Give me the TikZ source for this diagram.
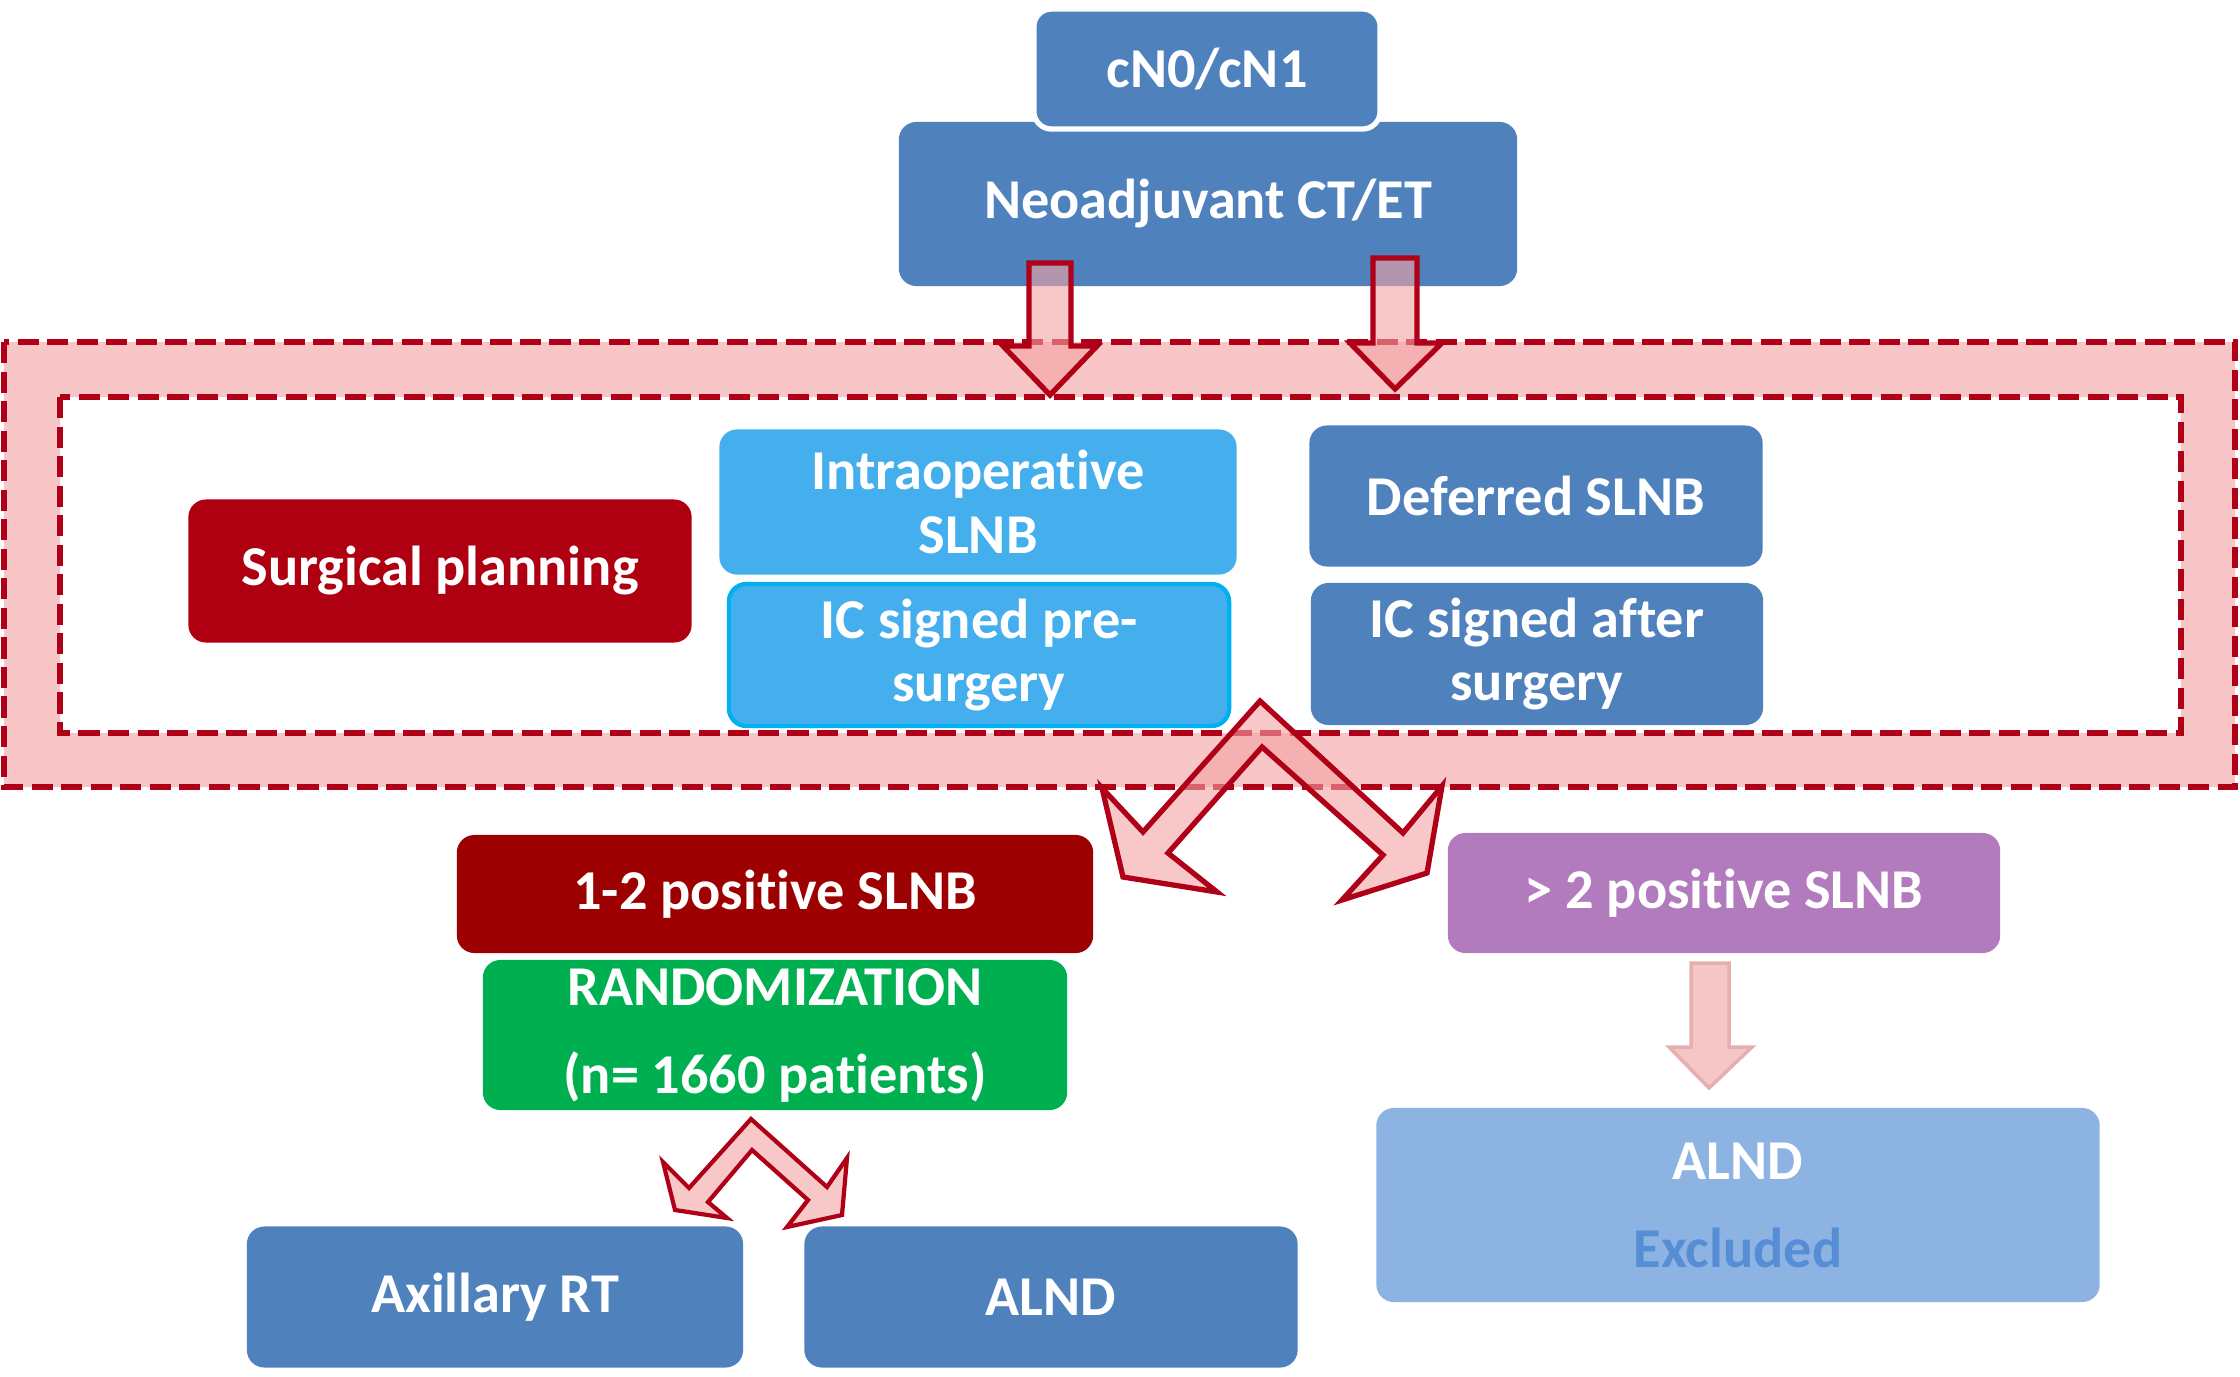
\documentclass[tikz,border=0pt]{standalone}
\usepackage{fontspec}
\setmainfont[Ligatures=NoCommon]{Carlito}

\definecolor{boxblue}{HTML}{4F81BD}
\definecolor{skyblue}{HTML}{45AFEE}
\definecolor{cyanline}{HTML}{00B0F0}
\definecolor{planred}{HTML}{AE0010}
\definecolor{posred}{HTML}{9C0000}
\definecolor{randgreen}{HTML}{00B050}
\definecolor{purplebox}{HTML}{B27BBE}
\definecolor{paleblue}{HTML}{8DB3E2}
\definecolor{exclblue}{HTML}{558ED5}
\definecolor{dashred}{HTML}{B00018}
\definecolor{bandpink}{HTML}{F8C6C6}
\definecolor{arrowpink}{HTML}{F3A3A3}
\definecolor{softpink}{HTML}{F6C6C6}
\definecolor{softred}{HTML}{E6AFAF}

\tikzset{
	box/.style={rectangle, rounded corners=5pt, fill=boxblue, text=white, align=center, inner sep=0pt,
		font=\bfseries\fontsize{16}{18}\selectfont},
	frame/.style={draw=dashred, line width=1.8pt, dash pattern=on 6pt off 2.4pt},
	blockarrow/.style={draw=dashred, line width=1.5pt, fill=arrowpink, fill opacity=0.6, line join=miter}
}

\begin{document}
\begin{tikzpicture}[x=0.01cm, y=-0.01cm]
	\useasboundingbox (0,0) rectangle (2240,1376);
	
	% pink band between the two dashed frames
	\fill[bandpink, even odd rule] (4,342) rectangle (2235,787) (60,397) rectangle (2181,733);
	\draw[frame] (4,342) rectangle (2235,787);
	\draw[frame] (60,397) rectangle (2181,733);
	
	\node[box, minimum width=6.18cm, minimum height=1.64cm] (neo) at (1208,204) {Neoadjuvant CT/ET};
	\node[box, draw=white, line width=1.5pt, minimum width=3.46cm, minimum height=1.2cm] (cn) at (1207,69) {cN0/cN1};
	
	\node[box, fill=planred, minimum width=5.03cm, minimum height=1.43cm] (plan) at (440,571) {Surgical planning};
	\node[box, fill=skyblue, minimum width=5.17cm, minimum height=1.45cm] (intra) at (978,502) {Intraoperative\\SLNB};
	\node[box, fill=skyblue, draw=cyanline, line width=1.2pt, minimum width=5.0cm, minimum height=1.42cm] (icpre) at (979,655) {IC signed pre-\\surgery};
	\node[box, minimum width=4.53cm, minimum height=1.41cm] (defer) at (1536,496) {Deferred SLNB};
	\node[box, minimum width=4.52cm, minimum height=1.42cm] (icafter) at (1537,654) {IC signed after\\surgery};
	
	\node[box, fill=posred, minimum width=6.36cm, minimum height=1.18cm] (pos12) at (775,894) {1-2 positive SLNB};
	\node[box, fill=randgreen, minimum width=5.84cm, minimum height=1.5cm] (rand) at (775,1035) {RANDOMIZATION\\[7pt](n= 1660 patients)};
	\node[box, fill=purplebox, minimum width=5.52cm, minimum height=1.2cm] (pos2) at (1724,893) {> 2 positive SLNB};
	\node[box, fill=paleblue, minimum width=7.23cm, minimum height=1.94cm] (excl) at (1738,1205) {ALND\\[7pt]\textcolor{exclblue}{Excluded}};
	\node[box, minimum width=4.96cm, minimum height=1.41cm] (axrt) at (495,1297) {Axillary RT};
	\node[box, minimum width=4.93cm, minimum height=1.41cm] (alnd) at (1051,1297) {ALND};
	
	% block arrows
	\draw[blockarrow] (1029,263) -- (1071,263) -- (1071,346) -- (1097,346) -- (1050,395) -- (1003,346) -- (1029,346) -- cycle;
	\draw[blockarrow] (1373,258) -- (1417,258) -- (1417,343) -- (1442,343) -- (1395,389) -- (1350,343) -- (1373,343) -- cycle;
	\draw[blockarrow] (1260,701) -- (1403,833) -- (1442,786) -- (1427,873) -- (1342,900) -- (1383,855) -- (1262,747)
		-- (1168,853) -- (1217,892) -- (1123,877) -- (1102,788) -- (1143,832) -- cycle;
	\draw[blockarrow, line width=1.2pt] (751,1119) -- (827,1187) -- (847,1158) -- (842,1215) -- (787,1227) -- (808,1200) -- (752,1150)
		-- (708,1202) -- (727,1218) -- (675,1210) -- (663,1162) -- (689,1188) -- cycle;
	\draw[draw=softred, line width=1pt, fill=softpink] (1691,963) -- (1729,963) -- (1729,1047) -- (1752,1047) -- (1709,1088) -- (1669,1047) -- (1691,1047) -- cycle;
\end{tikzpicture}
\end{document}
